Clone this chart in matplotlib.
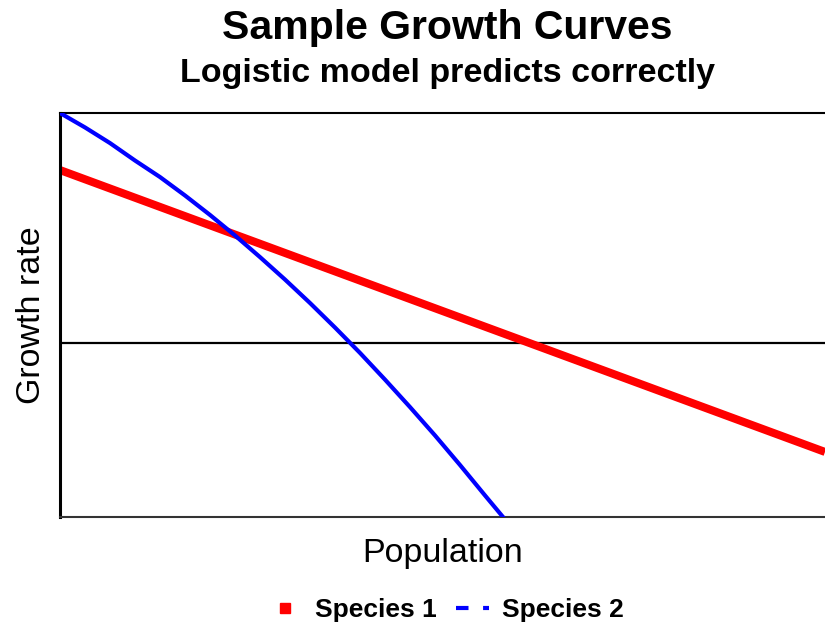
import matplotlib
matplotlib.use("Agg")
import matplotlib.pyplot as plt
from matplotlib.lines import Line2D

plt.rcParams['font.family'] = ['Liberation Sans', 'DejaVu Sans']

# Data
species1_x = [0, 100]
species1_y = [0.994, -0.626]
species2_x = [0, 3.27, 6.54, 9.80, 13.07, 16.34, 19.61, 22.88, 26.14, 29.41,
              32.68, 35.95, 39.22, 42.48, 45.75, 49.02, 52.29, 55.56, 57.91]
species2_y = [1.322, 1.239, 1.149, 1.049, 0.954, 0.848, 0.736, 0.618, 0.494, 0.365,
              0.230, 0.089, -0.057, -0.210, -0.368, -0.531, -0.701, -0.876, -1.0]
labels = ["Species 1", "Species 2"]

fig = plt.figure(figsize=(8.25, 6.27), dpi=100)
ax = fig.add_axes([0.0727, 0.1754, 0.9273, 0.6444])

ax.axhline(0, color='black', lw=1.6, zorder=1)
ax.plot(species1_x, species1_y, color='#ff0000', lw=5.8, solid_capstyle='butt', zorder=2)
ax.plot(species2_x, species2_y, color='#0000ff', lw=3.0, zorder=3)

ax.set_xlim(0, 100)
ax.set_ylim(-1.0, 1.322)
ax.set_xticks([])
ax.set_yticks([])
ax.spines['right'].set_visible(False)
ax.spines['left'].set_linewidth(2.2)
ax.spines['top'].set_linewidth(1.5)
ax.spines['bottom'].set_linewidth(1.5)
ax.spines['bottom'].set_color('#333333')

ax.set_xlabel("Population", fontsize=24.5, labelpad=15)
ax.set_ylabel("Growth rate", fontsize=24.5, labelpad=9)

fig.text(0.542, 0.955, "Sample Growth Curves", ha='center', va='center',
         fontsize=29.5, fontweight='bold')
fig.text(0.542, 0.883, "Logistic model predicts correctly", ha='center', va='center',
         fontsize=24.5, fontweight='bold')

handles = [
    Line2D([], [], color='#ff0000', marker='s', markersize=6.5, linestyle='None'),
    Line2D([], [], color='#0000ff', lw=3, linestyle=(0, (3, 3.5))),
]
fig.legend(handles, labels, loc='center', bbox_to_anchor=(0.541, 0.027), ncol=2,
           frameon=False, prop={'weight': 'bold', 'size': 19}, handlelength=1.25,
           columnspacing=0.75, handletextpad=0.5)

fig.savefig("out.png", dpi=100)
